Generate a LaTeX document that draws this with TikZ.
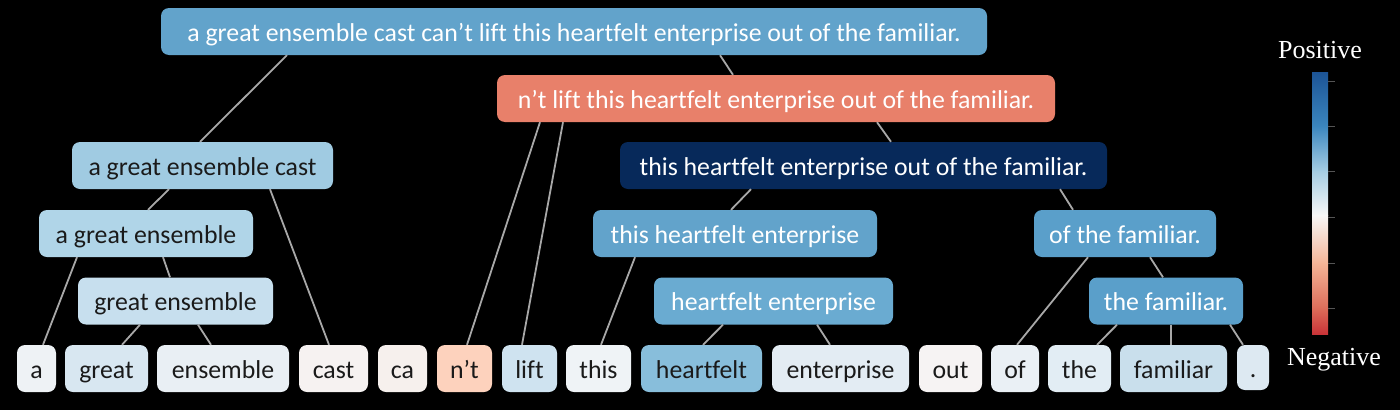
\documentclass[tikz,border=0pt]{standalone}
\usepackage{fontspec}
\setmainfont{Carlito}[Ligatures=NoCommon]
\newfontfamily\cbfont{Liberation Serif}
\definecolor{txtdark}{HTML}{1A1A1A}
\definecolor{edgegray}{HTML}{A8A8A8}
\definecolor{ctop}{HTML}{62A3CB}
\definecolor{cnlift}{HTML}{E8806A}
\definecolor{cthf}{HTML}{07295A}
\definecolor{cagec}{HTML}{A0CBE2}
\definecolor{cage}{HTML}{B0D5E8}
\definecolor{cthe}{HTML}{62A3CB}
\definecolor{cotf}{HTML}{5A9FCA}
\definecolor{cge}{HTML}{C7DFEE}
\definecolor{che}{HTML}{6AABD1}
\definecolor{ctf}{HTML}{5A9FCA}
\definecolor{wa}{HTML}{EEF2F5}
\definecolor{wgreat}{HTML}{D8E7F1}
\definecolor{wens}{HTML}{E9EFF4}
\definecolor{wcast}{HTML}{F6F2F1}
\definecolor{wca}{HTML}{F6F0ED}
\definecolor{wnt}{HTML}{FDD2BD}
\definecolor{wlift}{HTML}{CFE3F0}
\definecolor{wthis}{HTML}{EFF3F6}
\definecolor{wheart}{HTML}{88BEDB}
\definecolor{wenter}{HTML}{E3ECF3}
\definecolor{wout}{HTML}{F6F3F3}
\definecolor{wof}{HTML}{EAF0F5}
\definecolor{wthe}{HTML}{E2EDF4}
\definecolor{wfam}{HTML}{C9DFEC}
\definecolor{wdot}{HTML}{DDE9F2}
\definecolor{cb1}{HTML}{1C5496}
\definecolor{cb2}{HTML}{3B86BE}
\definecolor{cb3}{HTML}{A5CDE3}
\definecolor{cb4}{HTML}{F7F7F7}
\definecolor{cb5}{HTML}{F5B597}
\definecolor{cb6}{HTML}{DD6D5A}
\definecolor{cb7}{HTML}{C93438}
\definecolor{tickgray}{HTML}{555555}
\begin{document}
\begin{tikzpicture}[x=1pt,y=-1pt,
  box/.style={rounded corners=8pt, inner sep=0pt, minimum height=47pt,
    text height=25pt, text depth=6pt, font=\fontsize{25.8}{30}\selectfont},
  lt/.style={text=txtdark},
  dk/.style={text=white},
  edge/.style={draw=edgegray, line width=1.8pt},
  lbl/.style={text=white, font=\cbfont\fontsize{26}{30}\selectfont, inner sep=0pt}]
\fill[black] (0,0) rectangle (1400,410);
% phrase nodes
\node[box, dk, fill=ctop, minimum width=826pt] (top) at (574,31.5) {a great ensemble cast can’t lift this heartfelt enterprise out of the familiar.};
\node[box, dk, fill=cnlift, minimum width=558pt] (nlift) at (776,98.5) {n’t lift this heartfelt enterprise out of the familiar.};
\node[box, dk, fill=cthf, minimum width=487pt] (thf) at (863.5,165.5) {this heartfelt enterprise out of the familiar.};
\node[box, lt, fill=cagec, minimum width=261pt] (agec) at (202.5,165.5) {a great ensemble cast};
\node[box, lt, fill=cage, minimum width=214pt] (age) at (146,233.5) {a great ensemble};
\node[box, dk, fill=cthe, minimum width=284pt] (the) at (735,233.5) {this heartfelt enterprise};
\node[box, dk, fill=cotf, minimum width=182pt] (otf) at (1125,233.5) {of the familiar.};
\node[box, lt, fill=cge, minimum width=195pt] (ge) at (175.5,301) {great ensemble};
\node[box, dk, fill=che, minimum width=239pt] (he) at (773.5,301) {heartfelt enterprise};
\node[box, dk, fill=ctf, minimum width=154pt] (tf) at (1166,301) {the familiar.};
% word nodes
\node[box, lt, fill=wa, minimum width=39pt] (wa) at (36.5,368.5) {a};
\node[box, lt, fill=wgreat, minimum width=83pt] (wgreat) at (106.5,368.5) {great};
\node[box, lt, fill=wens, minimum width=132pt] (wens) at (223,368.5) {ensemble};
\node[box, lt, fill=wcast, minimum width=69pt] (wcast) at (333.5,368.5) {cast};
\node[box, lt, fill=wca, minimum width=49pt] (wca) at (402.5,368.5) {ca};
\node[box, lt, fill=wnt, minimum width=55pt] (wnt) at (464.5,368.5) {n’t};
\node[box, lt, fill=wlift, minimum width=55pt] (wlift) at (529.5,368.5) {lift};
\node[box, lt, fill=wthis, minimum width=65pt] (wthis) at (598.5,368.5) {this};
\node[box, lt, fill=wheart, minimum width=121pt] (wheart) at (701.5,368.5) {heartfelt};
\node[box, lt, fill=wenter, minimum width=137pt] (wenter) at (840.5,368.5) {enterprise};
\node[box, lt, fill=wout, minimum width=63pt] (wout) at (950.5,368.5) {out};
\node[box, lt, fill=wof, minimum width=48pt] (wof) at (1015,368.5) {of};
\node[box, lt, fill=wthe, minimum width=63pt] (wthe) at (1079.5,368.5) {the};
\node[box, lt, fill=wfam, minimum width=107pt] (wfam) at (1173.5,368.5) {familiar};
\node[box, lt, fill=wdot, minimum width=32pt, minimum height=45pt] (wdot) at (1253,367.5) {.};
% edges
\draw[edge] ([xshift=-287pt]top.south) -- ([xshift=-2.5pt]agec.north);
\draw[edge] ([xshift=146pt]top.south) -- ([xshift=-43pt]nlift.north);
\draw[edge] ([xshift=-236pt]nlift.south) -- ([xshift=2.5pt]wnt.north);
\draw[edge] ([xshift=-213pt]nlift.south) -- ([xshift=-7.5pt]wlift.north);
\draw[edge] ([xshift=101pt]nlift.south) -- ([xshift=27.5pt]thf.north);
\draw[edge] ([xshift=-112.5pt]thf.south) -- ([xshift=-4pt]the.north);
\draw[edge] ([xshift=196.5pt]thf.south) -- ([xshift=-52pt]otf.north);
\draw[edge] ([xshift=-33.5pt]agec.south) -- ([xshift=2pt]age.north);
\draw[edge] ([xshift=67.5pt]agec.south) -- ([xshift=-4.5pt]wcast.north);
\draw[edge] ([xshift=-69pt]age.south) -- ([xshift=6.5pt]wa.north);
\draw[edge] ([xshift=17pt]age.south) -- ([xshift=-5.5pt]ge.north);
\draw[edge] ([xshift=-35.5pt]ge.south) -- ([xshift=15.5pt]wgreat.north);
\draw[edge] ([xshift=22.5pt]ge.south) -- ([xshift=-12pt]wens.north);
\draw[edge] ([xshift=-100pt]the.south) -- ([xshift=2.5pt]wthis.north);
\draw[edge] ([xshift=-50.5pt]he.south) -- ([xshift=1.5pt]wheart.north);
\draw[edge] ([xshift=43.5pt]he.south) -- ([xshift=-10.5pt]wenter.north);
\draw[edge] ([xshift=-37pt]otf.south) -- ([xshift=2pt]wof.north);
\draw[edge] ([xshift=25pt]otf.south) -- ([xshift=-3pt]tf.north);
\draw[edge] ([xshift=-49pt]tf.south) -- ([xshift=17.5pt]wthe.north);
\draw[edge] ([xshift=5pt]tf.south) -- ([xshift=-2.5pt]wfam.north);
\draw[edge] ([xshift=64pt]tf.south) -- ([xshift=-10pt]wdot.north);
% colour bar
\shade[top color=cb1, bottom color=cb2] (1312,72) rectangle (1328,126.5);
\shade[top color=cb2, bottom color=cb3] (1312,126) rectangle (1328,171.5);
\shade[top color=cb3, bottom color=cb4] (1312,171) rectangle (1328,215.5);
\shade[top color=cb4, bottom color=cb5] (1312,215) rectangle (1328,263.5);
\shade[top color=cb5, bottom color=cb6] (1312,263) rectangle (1328,308.5);
\shade[top color=cb6, bottom color=cb7] (1312,308) rectangle (1328,334);
\foreach \ty in {81,126,171,217,263,308}
  \draw[tickgray, line width=1pt] (1328,\ty) -- (1335,\ty);
\node[lbl] (pos) at (1320,50) {Positive};
\node[lbl] (neg) at (1334,360) {Negative};
\end{tikzpicture}
\end{document}
